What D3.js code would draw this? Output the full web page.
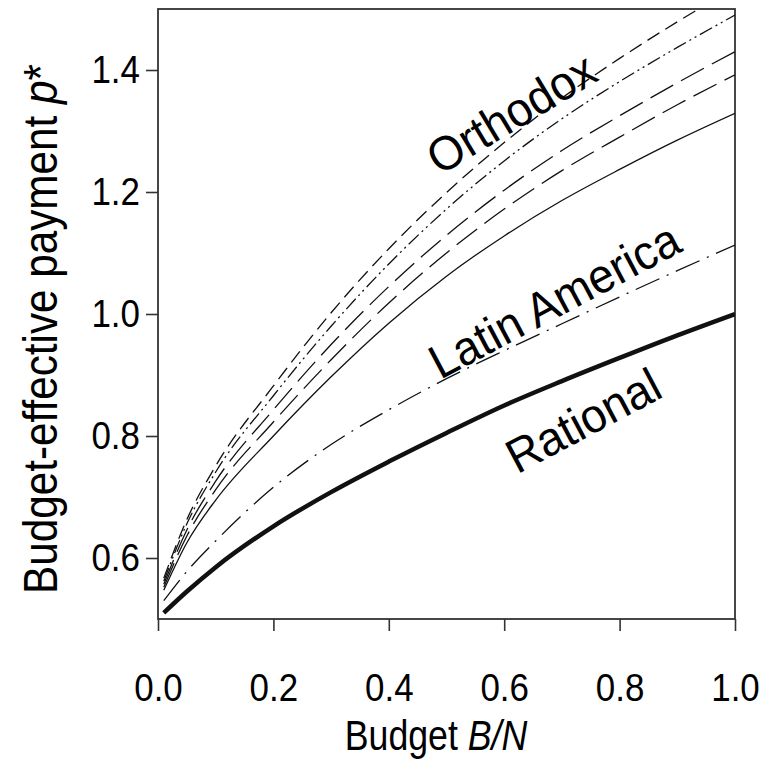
<!DOCTYPE html>
<html>
<head>
<meta charset="utf-8">
<script src="https://cdn.jsdelivr.net/npm/d3@7"></script>
<style>
  html, body { margin: 0; padding: 0; background: #fff; }
  svg { display: block; }
  text { font-family: "Liberation Sans", Arial, sans-serif; fill: #000; }
</style>
</head>
<body>
<svg id="chart" width="763" height="760"></svg>
<script>
// Budget share B/N at which each curve is sampled
const budget = [0.01, 0.05, 0.1, 0.2, 0.3, 0.4, 0.5, 0.6, 0.7, 0.8, 0.9, 1.0];

// Budget-effective payment p* for each behavioural profile
const orthodox1 = [0.567, 0.663, 0.751, 0.882, 1.002, 1.107, 1.199, 1.281, 1.354, 1.419, 1.479, 1.535];
const orthodox2 = [0.562, 0.656, 0.741, 0.866, 0.980, 1.082, 1.172, 1.251, 1.320, 1.381, 1.437, 1.490];
const orthodox3 = [0.557, 0.646, 0.726, 0.843, 0.950, 1.045, 1.129, 1.203, 1.268, 1.325, 1.379, 1.430];
const orthodox4 = [0.552, 0.636, 0.712, 0.823, 0.925, 1.018, 1.100, 1.172, 1.235, 1.290, 1.343, 1.392];
const orthodox5 = [0.547, 0.625, 0.695, 0.800, 0.897, 0.985, 1.062, 1.128, 1.186, 1.237, 1.285, 1.329];
const latinAmerica = [0.530, 0.578, 0.628, 0.716, 0.786, 0.843, 0.894, 0.940, 0.984, 1.028, 1.071, 1.113];
const rational = [0.510, 0.545, 0.585, 0.652, 0.708, 0.758, 0.805, 0.850, 0.890, 0.928, 0.965, 1.000];

// Axis ticks
const xTicks = [0.0, 0.2, 0.4, 0.6, 0.8, 1.0];
const yTicks = [0.6, 0.8, 1.0, 1.2, 1.4];

// Curve labels
const labels = ["Orthodox", "Latin America", "Rational"];

const svg = d3.select("#chart");
const m = { left: 158, right: 28, top: 9, bottom: 141 };
const W = 763, H = 760;

const x = d3.scaleLinear().domain([0, 1]).range([m.left, W - m.right]);
const y = d3.scaleLinear().domain([0.5, 1.5]).range([H - m.bottom, m.top]);

svg.append("defs").append("clipPath").attr("id", "plot-clip")
  .append("rect")
  .attr("x", x(0)).attr("y", y(1.5))
  .attr("width", x(1) - x(0)).attr("height", y(0.5) - y(1.5));

// squeeze text along its reading direction (narrow sans look)
function narrow(sel, k) {
  sel.each(function () {
    const t = d3.select(this);
    const tx = +t.attr("x") || 0, ty = +t.attr("y") || 0;
    t.attr("x", null).attr("y", null)
      .attr("transform", `translate(${tx},${ty}) scale(${k},1)`);
  });
}

// axes
const gx = svg.append("g")
  .attr("transform", `translate(0,${y(0.5)})`)
  .call(d3.axisBottom(x).tickValues(xTicks).tickFormat(d3.format(".1f"))
    .tickSize(12).tickSizeOuter(0).tickPadding(43));
const gy = svg.append("g")
  .attr("transform", `translate(${x(0)},0)`)
  .call(d3.axisLeft(y).tickValues(yTicks).tickFormat(d3.format(".1f"))
    .tickSize(12).tickSizeOuter(0).tickPadding(6));

[gx, gy].forEach(g => {
  g.selectAll("path.domain").remove();
  g.selectAll(".tick line").attr("stroke", "#333").attr("stroke-width", 1.6);
  g.selectAll(".tick text").attr("font-size", 38).attr("fill", "#000")
    .style("font-family", '"Liberation Sans", Arial, sans-serif');
  narrow(g.selectAll(".tick text"), 0.92);
});

// frame
svg.append("rect")
  .attr("x", x(0)).attr("y", y(1.5))
  .attr("width", x(1) - x(0)).attr("height", y(0.5) - y(1.5))
  .attr("fill", "none").attr("stroke", "#333").attr("stroke-width", 1.8);

// curves
const line = d3.line()
  .x((d, i) => x(budget[i]))
  .y(d => y(d))
  .curve(d3.curveMonotoneX);

const series = [
  { values: orthodox1, dash: "14,7", width: 1.3 },
  { values: orthodox2, dash: "14,4,2,4,2,4", width: 1.3 },
  { values: orthodox3, dash: "26,9", width: 1.3 },
  { values: orthodox4, dash: "26,9", width: 1.3 },
  { values: orthodox5, dash: null, width: 1.3 },
  { values: latinAmerica, dash: "26,8,2,8", width: 1.3 },
  { values: rational, dash: null, width: 4.5 }
];

const gLines = svg.append("g").attr("clip-path", "url(#plot-clip)");
gLines.selectAll("path")
  .data(series)
  .join("path")
  .attr("d", d => line(d.values))
  .attr("fill", "none")
  .attr("stroke", "#111")
  .attr("stroke-width", d => d.width)
  .attr("stroke-dasharray", d => d.dash);

// curve labels
const labelPos = [
  { cx: 511, cy: 113, angle: -31 },
  { cx: 554, cy: 300, angle: -28 },
  { cx: 583, cy: 420, angle: -28 }
];
svg.append("g").selectAll("text")
  .data(labels)
  .join("text")
  .attr("transform", (d, i) => `translate(${labelPos[i].cx},${labelPos[i].cy}) rotate(${labelPos[i].angle}) scale(0.95,1)`)
  .attr("text-anchor", "middle")
  .attr("dy", "0.36em")
  .attr("font-size", 48)
  .text(d => d);

// axis titles
const xt = svg.append("text")
  .attr("transform", `translate(436,750) scale(0.85,1)`)
  .attr("text-anchor", "middle")
  .attr("font-size", 42);
xt.append("tspan").text("Budget ");
xt.append("tspan").attr("font-style", "italic").text("B/N");

const yt = svg.append("text")
  .attr("transform", `translate(57,329) rotate(-90) scale(0.88,1)`)
  .attr("text-anchor", "middle")
  .attr("font-size", 48);
yt.append("tspan").text("Budget-effective payment ");
yt.append("tspan").attr("font-style", "italic").text("p");
yt.append("tspan").text("*");
</script>
</body>
</html>
